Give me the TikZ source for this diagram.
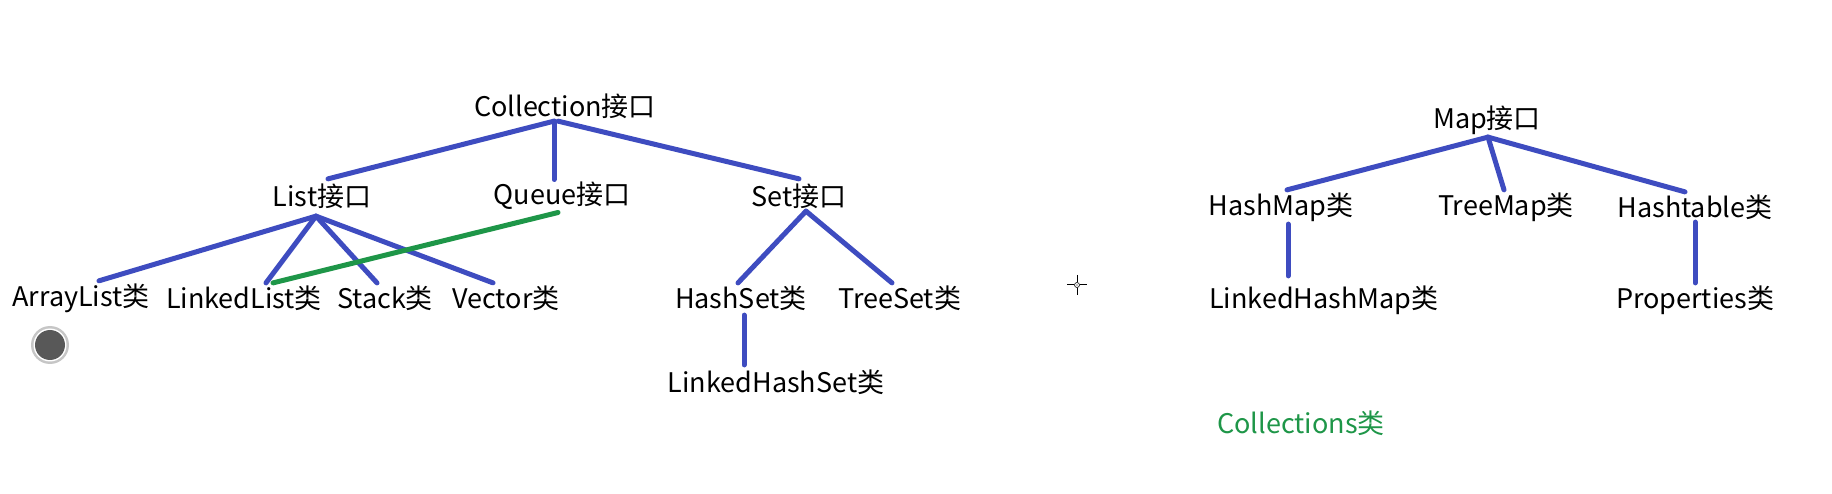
\documentclass[tikz,border=0pt]{standalone}
\usepackage{fontspec}
\setmainfont{Noto Sans CJK SC}
\usetikzlibrary{positioning,calc}
\definecolor{linkblue}{RGB}{62,76,192}
\definecolor{linkgreen}{RGB}{30,150,72}
\definecolor{markdark}{RGB}{88,88,88}

\begin{document}
\begin{tikzpicture}[
  x=1pt, y=-1pt,
  every node/.style={font=\fontsize{27}{32}\selectfont, inner sep=2.5pt, align=center},
  item/.style  ={text=black},
  note/.style  ={text=linkgreen},
  edge/.style  ={draw=linkblue, line width=5pt, line cap=round},
  qedge/.style ={draw=linkgreen, line width=5pt, line cap=round},
]
\fill[white] (0,0) rectangle (1832,494);
\useasboundingbox (0,0) rectangle (1832,494);

%% ── Collection tree ─────────────────────────────────────────────
\node[item] (coll)  at (565, 106) {Collection接口};

\node[item] (list)  at (322, 196) {List接口};
\node[item] (queue) at (562, 196) {Queue接口};
\node[item] (set)   at (799, 196) {Set接口};

\node[item] (alist) at (81,  298) {ArrayList类};
\node[item] (llist) at (244, 298) {LinkedList类};
\node[item] (stack) at (385, 298) {Stack类};
\node[item] (vect)  at (506, 298) {Vector类};

\node[item] (hset)  at (741, 298) {HashSet类};
\node[item] (tset)  at (900, 298) {TreeSet类};
\node[item] (lhset) at (776, 382) {LinkedHashSet类};

\draw[edge] ([xshift=-11pt]coll.south) -- ([xshift=6pt,yshift=2pt]list.north);
\draw[edge] ([xshift=-11pt]coll.south) -- ([xshift=-8pt]queue.north);
\draw[edge] ([xshift=-7pt]coll.south) -- ([yshift=2pt]set.north);

\draw[edge] ([xshift=-6pt,yshift=-5pt]list.south) -- ([xshift=18pt]alist.north);
\draw[edge] ([xshift=-6pt,yshift=-5pt]list.south) -- ([xshift=22pt]llist.north);
\draw[edge] ([xshift=-6pt,yshift=-5pt]list.south) -- ([xshift=-8pt]stack.north);
\draw[edge] ([xshift=-6pt,yshift=-5pt]list.south) -- ([xshift=-13pt]vect.north);

\draw[qedge] ([xshift=-4pt]queue.south) -- ([xshift=29pt]llist.north);

\draw[edge] ([xshift=7pt]set.south) -- ([xshift=-3pt]hset.north);
\draw[edge] ([xshift=7pt]set.south) -- ([xshift=-8pt]tset.north);
\draw[edge] ([xshift=3pt,yshift=-2pt]hset.south) -- ([xshift=-32pt,yshift=2pt]lhset.north);

%% ── Map tree ────────────────────────────────────────────────────
\node[item] (map)   at (1487, 120) {Map接口};

\node[item] (hmap)  at (1281, 207) {HashMap类};
\node[item] (tmap)  at (1506, 207) {TreeMap类};
\node[item] (htab)  at (1695, 207) {Hashtable类};

\node[item] (lhmap) at (1324, 300) {LinkedHashMap类};
\node[item] (props) at (1695, 300) {Properties类};

\draw[edge] ([xshift=1pt]map.south) -- ([xshift=6pt]hmap.north);
\draw[edge] ([xshift=1pt]map.south) -- ([xshift=-2pt]tmap.north);
\draw[edge] ([xshift=1pt]map.south) -- ([xshift=-10pt]htab.north);
\draw[edge] ([xshift=7pt]hmap.south) -- ([xshift=-36pt,yshift=7pt]lhmap.north);
\draw[edge] (htab.south) -- (props.north);

%% ── helper class ────────────────────────────────────────────────
\node[note] (colls) at (1301, 423) {Collections类};

%% marks left in the screenshot
\fill[gray!45] (50,345) circle (19);
\fill[white]   (50,345) circle (16.5);
\fill[markdark] (50,345) circle (15);

\draw[line width=1pt] (1067,285) -- (1074,285) (1080,285) -- (1087,285)
  (1077,275) -- (1077,282) (1077,288) -- (1077,295);
\draw[line width=0.6pt] (1077,285) circle (2.5);
\fill (1077,285) circle (0.7);

\end{tikzpicture}
\end{document}
